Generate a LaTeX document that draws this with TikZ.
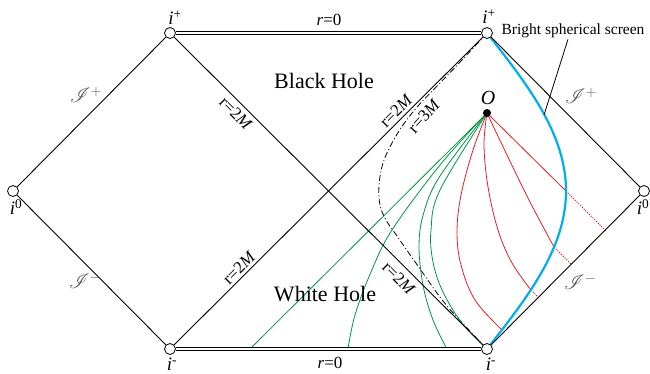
\documentclass[tikz,border=0pt]{standalone}
\usepackage{fontspec}
\setmainfont{Liberation Serif}
\usepackage{mathrsfs}
\definecolor{grn}{RGB}{0,150,70}
\definecolor{rd}{RGB}{237,28,36}
\definecolor{scr}{RGB}{0,174,239}
\pgfdeclarelayer{bg}
\pgfsetlayers{bg,main}
\tikzset{
  pt/.style={circle, draw, fill=white, line width=0.8pt, minimum size=11pt, inner sep=0pt},
  frame/.style={line width=0.9pt},
  sing/.style={double=white, double distance=1.8pt, line width=0.9pt},
  ilab/.style={font=\fontsize{19}{19}\selectfont, inner sep=0pt},
  rlab/.style={font=\fontsize{17}{17}\selectfont, inner sep=0pt},
  scrilab/.style={text=black!65, font=\fontsize{22}{22}\selectfont, inner sep=0pt},
  region/.style={font=\fontsize{22}{22}\selectfont, inner sep=0pt},
  gline/.style={grn, line width=0.8pt},
  rline/.style={rd, line width=0.8pt},
  rdot/.style={rd, line width=1pt, dash pattern=on 1.2pt off 1.3pt},
  screen/.style={scr, line width=2.2pt},
  rthree/.style={line width=0.8pt, dash pattern=on 6pt off 2.5pt on 1pt off 2.5pt},
}
\begin{document}
\begin{tikzpicture}[x=1pt,y=-1pt]
\useasboundingbox (0,0) rectangle (650,373);
% points
\node[pt] (L0) at (13,191) {};
\node[pt] (TL) at (170,33) {};
\node[pt] (BL) at (170,349) {};
\node[pt] (TR) at (487,33) {};
\node[pt] (BR) at (487,349) {};
\node[pt] (R0) at (644,191) {};
\node[circle, fill=black, minimum size=8pt, inner sep=0pt] (O) at (487,113) {};
\coordinate (g1) at (250,349);
\coordinate (s1) at (544,115);
\coordinate (e1) at (502,330);
\coordinate (e2) at (531,290);
\coordinate (e3) at (554,247);
\coordinate (e4) at (566,191);
% frame
\draw[frame] (L0) -- (TL);
\draw[frame] (L0) -- (BL);
\draw[frame] (R0) -- (TR);
\draw[frame] (R0) -- (BR);
\draw[frame] (TL) -- (BR);
\draw[frame] (BL) -- (TR);
\draw[sing] (TL) -- (TR);
\draw[sing] (BL) -- (BR);
\begin{pgfonlayer}{bg}
% r=3M
\draw[rthree] plot[smooth, tension=0.6] coordinates {(TR.center) (462,60) (440,83) (418,106) (403,125) (392,143) (383,163) (379,185) (380,205) (386,220) (397,236) (418,266) (443,301) (468,329) (BR.center)};
% green
\draw[gline] (O.center) -- (g1);
\draw[gline] plot[smooth, tension=0.6] coordinates {(O.center) (440,165) (392,230) (371,272) (355,315) (348,349)};
\draw[gline] plot[smooth, tension=0.6] coordinates {(O.center) (440,176) (424,212) (419,245) (423,285) (433,320) (447,349)};
\draw[gline] plot[smooth, tension=0.6] coordinates {(O.center) (440,190) (431,230) (433,262) (443,292) (462,323) (BR.center)};
% red
\draw[rline] plot[smooth, tension=0.6] coordinates {(O.center) (473,150) (461,195) (457,232) (461,265) (475,300) (e1)};
\draw[rline] plot[smooth, tension=0.6] coordinates {(O.center) (484,145) (488,187) (498,230) (512,263) (e2)};
\draw[rline] plot[smooth, tension=0.6] coordinates {(O.center) (507,155) (530,202) (e3)};
\draw[rline] (O.center) -- (e4);
\draw[rdot] (e2) -- (538.5,297.5);
\draw[rdot] (e3) -- (571.5,264.5);
\draw[rdot] (e4) -- (605.5,230.5);
% screen
\draw[screen] plot[domain=0:180, samples=90, smooth] ({487+79*sin(\x)}, {33+1.75556*\x});
\end{pgfonlayer}
% labels
\node[ilab] (lTL) at (175,18) {\textit{i}\textsuperscript{+}};
\node[ilab] (lTR) at (489,17) {\textit{i}\textsuperscript{+}};
\node[ilab] (lBL) at (172,364) {\textit{i}\textsuperscript{-}};
\node[ilab] (lBR) at (491,364) {\textit{i}\textsuperscript{-}};
\node[ilab] (lL0) at (16,207) {\textit{i}\textsuperscript{0}};
\node[ilab] (lR0) at (643,207) {\textit{i}\textsuperscript{0}};
\node[rlab] (r0t) at (329,20) {\textit{r}=0};
\node[rlab] (r0b) at (330,363) {\textit{r}=0};
\node[region] (bh) at (324,81) {Black Hole};
\node[region] (wh) at (325,294) {White Hole};
\node[font=\fontsize{20}{20}\selectfont\itshape, inner sep=0pt] (lO) at (488,98) {O};
\node[rlab] (ul) at (236,113) [rotate=-45] {r=2\textit{M}};
\node[rlab] (ur) at (396,111) [rotate=45] {r=2\textit{M}};
\node[rlab] (ll) at (239,268) [rotate=45] {r=2\textit{M}};
\node[rlab] (lr) at (399,278) [rotate=-45] {r=2\textit{M}};
\node[rlab] (r3) at (424,116) [rotate=48] {r=3\textit{M}};
\node[scrilab] (s1l) at (86,95) {$\mathscr{I}^+$};
\node[scrilab] (s2l) at (85,281) {$\mathscr{I}^-$};
\node[scrilab] (s1r) at (581,96) {$\mathscr{I}^+$};
\node[scrilab] (s2r) at (580,282) {$\mathscr{I}^-$};
\node[font=\fontsize{15.5}{15.5}\selectfont, inner sep=1pt] (bss) at (573,31) {Bright spherical screen};
\draw[line width=0.8pt] ([xshift=-5pt]bss.south) -- (s1);
\end{tikzpicture}
\end{document}
